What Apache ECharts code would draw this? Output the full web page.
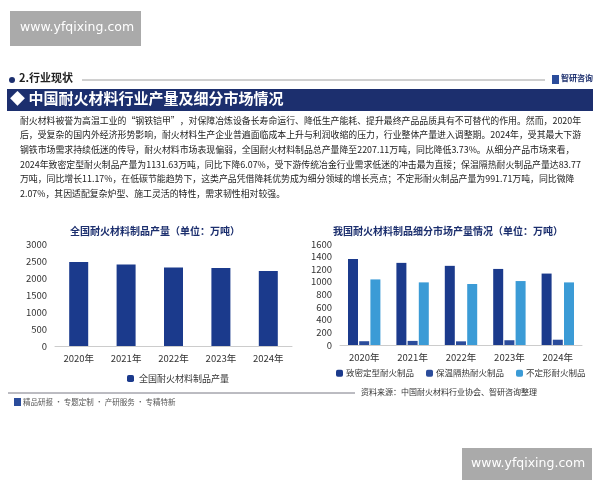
<!DOCTYPE html>
<html><head><meta charset="utf-8">
<script src="https://cdn.jsdelivr.net/npm/echarts@6/dist/echarts.min.js"></script>
<style>html,body{margin:0;padding:0;background:#fff}#chart{width:600px;height:480px}</style>
</head><body><div id="chart"></div>
<script>
const years = ['2020年', '2021年', '2022年', '2023年', '2024年'];
const totalOutput = [2472, 2396, 2308, 2293, 2207.11];
const denseShaped = [1364, 1301, 1254, 1205, 1131.63];
const insulating = [60, 65, 58, 75.4, 83.77];
const unshaped = [1039, 992, 966, 1013, 991.71];
const leftTicks = [0, 3000, 500];
const rightTicks = [0, 1600, 200];

const paragraph = [
  '耐火材料被誉为高温工业的“钢铁铠甲”，对保障冶炼设备长寿命运行、降低生产能耗、提升最终产品品质具有不可替代的作用。然而，2020年',
  '后，受复杂的国内外经济形势影响，耐火材料生产企业普遍面临成本上升与利润收缩的压力，行业整体产量进入调整期。2024年，受其最大下游',
  '钢铁市场需求持续低迷的传导，耐火材料市场表现偏弱，全国耐火材料制品总产量降至2207.11万吨，同比降低3.73%。从细分产品市场来看，',
  '2024年致密定型耐火制品产量为1131.63万吨，同比下降6.07%，受下游传统冶金行业需求低迷的冲击最为直接；保温隔热耐火制品产量达83.77',
  '万吨，同比增长11.17%，在低碳节能趋势下，这类产品凭借降耗优势成为细分领域的增长亮点；不定形耐火制品产量为991.71万吨，同比微降',
  '2.07%，其因适配复杂炉型、施工灵活的特性，需求韧性相对较强。'
];

const font = '"Noto Sans CJK SC", "Noto Sans", sans-serif';
const navy = '#1c2f6e';

const chart = echarts.init(document.getElementById('chart'));

const textLines = paragraph.map((t, i) => ({
  type: 'text', left: 20, top: 116 + i * 14.6,
  style: { text: t, font: '8.9px ' + font, fill: '#222' }
}));

const axisCommon = {
  axisLine: { show: false }, axisTick: { show: false },
  splitLine: { show: false },
  axisLabel: { color: '#333', fontSize: 9.5, fontFamily: font, formatter: v => String(v) }
};

chart.setOption({
  animation: false,
  textStyle: { fontFamily: font },
  title: [
    { text: '全国耐火材料制品产量（单位：万吨）', left: 150, top: 221, textAlign: 'center',
      textStyle: { fontSize: 10, fontWeight: 'bold', color: navy } },
    { text: '我国耐火材料制品细分市场产量情况（单位：万吨）', left: 443, top: 221, textAlign: 'center',
      textStyle: { fontSize: 10, fontWeight: 'bold', color: navy } }
  ],
  grid: [
    { left: 55, right: 308, top: 244, height: 102 },
    { left: 340, right: 18, top: 244, height: 101 }
  ],
  legend: [
    { data: ['全国耐火材料制品产量'], left: 122, top: 369, itemWidth: 7, itemHeight: 7,
      textStyle: { fontSize: 9, color: '#333' } },
    { data: ['致密定型耐火制品', '保温隔热耐火制品', '不定形耐火制品'], left: 336, top: 369, width: 262,
      itemWidth: 7, itemHeight: 7, itemGap: 12, padding: 0,
      textStyle: { fontSize: 8.5, color: '#333', padding: [0, 0, 0, -2] } }
  ],
  xAxis: [
    { type: 'category', gridIndex: 0, data: years,
      axisLine: { lineStyle: { color: '#ccc' } }, axisTick: { show: false },
      axisLabel: { color: '#333', fontSize: 9.5, margin: 8 } },
    { type: 'category', gridIndex: 1, data: years,
      axisLine: { lineStyle: { color: '#ccc' } }, axisTick: { show: false },
      axisLabel: { color: '#333', fontSize: 9.5, margin: 8 } }
  ],
  yAxis: [
    Object.assign({ type: 'value', gridIndex: 0, min: leftTicks[0], max: leftTicks[1], interval: leftTicks[2] }, axisCommon),
    Object.assign({ type: 'value', gridIndex: 1, min: rightTicks[0], max: rightTicks[1], interval: rightTicks[2] }, axisCommon)
  ],
  series: [
    { name: '全国耐火材料制品产量', type: 'bar', xAxisIndex: 0, yAxisIndex: 0,
      data: totalOutput, barWidth: 19, itemStyle: { color: '#1b3a8c' } },
    { name: '致密定型耐火制品', type: 'bar', xAxisIndex: 1, yAxisIndex: 1,
      data: denseShaped, barWidth: 10, barGap: '12%', itemStyle: { color: '#1b3a8c' } },
    { name: '保温隔热耐火制品', type: 'bar', xAxisIndex: 1, yAxisIndex: 1,
      data: insulating, barWidth: 10, barGap: '12%', itemStyle: { color: '#2b4c9b' } },
    { name: '不定形耐火制品', type: 'bar', xAxisIndex: 1, yAxisIndex: 1,
      data: unshaped, barWidth: 10, barGap: '12%', itemStyle: { color: '#3b9bd6' } }
  ],
  graphic: [
    { type: 'rect', shape: { x: 10, y: 11, width: 131, height: 35 }, style: { fill: '#aaaaaa' } },
    { type: 'text', left: 20, top: 21, style: { text: 'www.yfqixing.com', font: '12.5px "DejaVu Sans", sans-serif', fill: '#fff' } },
    { type: 'rect', shape: { x: 462, y: 448, width: 130, height: 34 }, style: { fill: '#aaaaaa' } },
    { type: 'text', left: 471, top: 457, style: { text: 'www.yfqixing.com', font: '12.5px "DejaVu Sans", sans-serif', fill: '#fff' } },
    { type: 'circle', shape: { cx: 12, cy: 80, r: 3 }, style: { fill: navy } },
    { type: 'text', left: 19, top: 72, style: { text: '2.行业现状', font: 'bold 11px ' + font, fill: '#222' } },
    { type: 'line', shape: { x1: 82, y1: 80, x2: 545, y2: 80 }, style: { stroke: '#888', lineWidth: 0.8 } },
    { type: 'rect', shape: { x: 552, y: 75, width: 7, height: 9 }, style: { fill: '#2b4c9b' } },
    { type: 'text', left: 561, top: 74, style: { text: '智研咨询', font: 'bold 8px ' + font, fill: navy } },
    { type: 'rect', shape: { x: 7, y: 89, width: 586, height: 22 }, style: { fill: navy } },
    { type: 'text', left: 10, top: 91, style: { text: '◆ 中国耐火材料行业产量及细分市场情况', font: 'bold 15px ' + font, fill: '#fff' } },
    ...textLines,
    { type: 'line', shape: { x1: 8, y1: 393, x2: 355, y2: 393 }, style: { stroke: '#556', lineWidth: 0.8 } },
    { type: 'text', left: 361, top: 388, style: { text: '资料来源：中国耐火材料行业协会、智研咨询整理', font: '8px ' + font, fill: '#333' } },
    { type: 'rect', shape: { x: 14, y: 398, width: 7, height: 8 }, style: { fill: '#2b4c9b' } },
    { type: 'text', left: 23, top: 398, style: { text: '精品研报 · 专题定制 · 产研服务 · 专精特新', font: '7.5px ' + font, fill: '#555' } }
  ]
});
</script></body></html>
